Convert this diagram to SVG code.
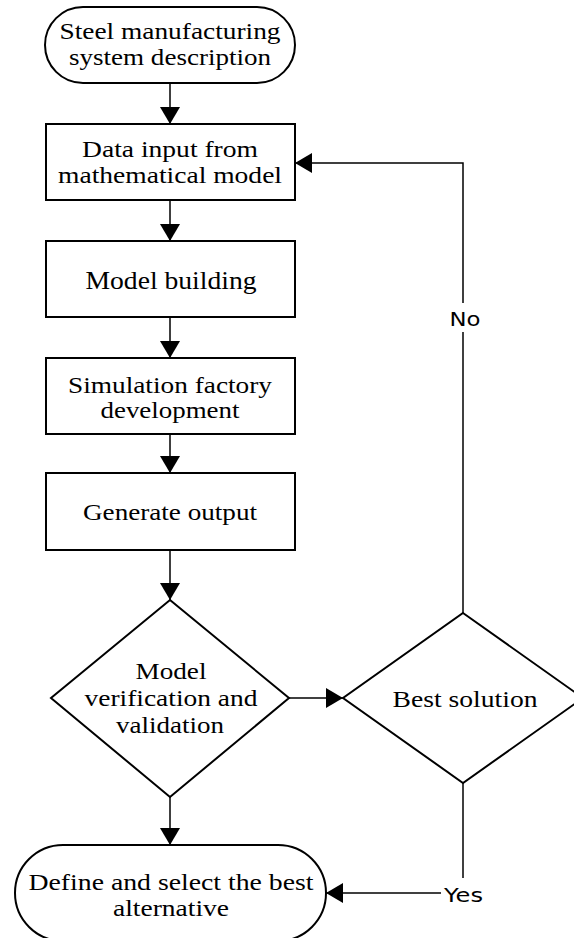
<svg xmlns="http://www.w3.org/2000/svg" width="574" height="938" viewBox="0 0 574 938">
  <style>
    .shape { fill: #ffffff; stroke: #000000; stroke-width: 2; }
    .lbl { font-family: "Liberation Serif", "Times New Roman", serif; font-size: 23px; fill: #000000; text-anchor: middle; }
    .big { font-size: 25px; }
    .cond { font-family: "DejaVu Sans", "Liberation Sans", sans-serif; font-size: 19px; fill: #000000; }
    .link { fill: none; stroke: #000000; stroke-width: 1.5; }
  </style>
  <defs>
    <marker id="arrow" markerUnits="userSpaceOnUse" markerWidth="18" markerHeight="20" refX="17" refY="10" orient="auto">
      <path d="M0,0 L17,10 L0,20 Z" fill="#000000"/>
    </marker>
  </defs>
  <rect width="574" height="938" fill="#ffffff"/>

  <g id="connectors">
    <line class="link" x1="170" y1="83" x2="170" y2="124" marker-end="url(#arrow)"/>
    <line class="link" x1="170" y1="200" x2="170" y2="241" marker-end="url(#arrow)"/>
    <line class="link" x1="170" y1="317" x2="170" y2="358" marker-end="url(#arrow)"/>
    <line class="link" x1="170" y1="434" x2="170" y2="473" marker-end="url(#arrow)"/>
    <line class="link" x1="170" y1="550" x2="170" y2="600" marker-end="url(#arrow)"/>
    <line class="link" x1="289" y1="698" x2="343" y2="698" marker-end="url(#arrow)"/>
    <line class="link" x1="170" y1="797" x2="170" y2="845" marker-end="url(#arrow)"/>
    <!-- No branch: back up to data input -->
    <line class="link" x1="463" y1="613" x2="463" y2="332"/>
    <polyline class="link" points="463,303 463,163 295,163" marker-end="url(#arrow)"/>
    <text class="cond" x="465" y="326" text-anchor="middle" textLength="31" lengthAdjust="spacingAndGlyphs">No</text>
    <!-- Yes branch: down to final step -->
    <line class="link" x1="463" y1="783" x2="463" y2="878"/>
    <line class="link" x1="441" y1="893" x2="326" y2="893" marker-end="url(#arrow)"/>
    <text class="cond" x="444" y="902" textLength="39" lengthAdjust="spacingAndGlyphs">Yes</text>
  </g>

  <g id="start">
    <rect class="shape" x="45" y="7" width="250" height="76" rx="38" ry="38"/>
    <text class="lbl" x="170" y="39" textLength="221" lengthAdjust="spacingAndGlyphs">Steel manufacturing</text>
    <text class="lbl" x="170" y="65" textLength="202" lengthAdjust="spacingAndGlyphs">system description</text>
  </g>

  <g id="data-input">
    <rect class="shape" x="46" y="124" width="249" height="76"/>
    <text class="lbl" x="170" y="157" textLength="176" lengthAdjust="spacingAndGlyphs">Data input from</text>
    <text class="lbl" x="170" y="183" textLength="224" lengthAdjust="spacingAndGlyphs">mathematical model</text>
  </g>

  <g id="model-building">
    <rect class="shape" x="46" y="241" width="249" height="76"/>
    <text class="lbl big" x="171" y="289" textLength="171" lengthAdjust="spacingAndGlyphs">Model building</text>
  </g>

  <g id="simulation">
    <rect class="shape" x="46" y="358" width="249" height="76"/>
    <text class="lbl" x="170" y="393" textLength="204" lengthAdjust="spacingAndGlyphs">Simulation factory</text>
    <text class="lbl" x="170" y="418" textLength="139" lengthAdjust="spacingAndGlyphs">development</text>
  </g>

  <g id="generate-output">
    <rect class="shape" x="46" y="473" width="249" height="77"/>
    <text class="lbl" x="170" y="520" textLength="174" lengthAdjust="spacingAndGlyphs">Generate output</text>
  </g>

  <g id="verification">
    <polygon class="shape" points="170,600 289,698 170,797 51,698"/>
    <text class="lbl" x="171" y="679" textLength="71" lengthAdjust="spacingAndGlyphs">Model</text>
    <text class="lbl" x="171" y="706" textLength="173" lengthAdjust="spacingAndGlyphs">verification and</text>
    <text class="lbl" x="170" y="733" textLength="108" lengthAdjust="spacingAndGlyphs">validation</text>
  </g>

  <g id="best-solution">
    <polygon class="shape" points="463,613 583,698 463,783 343,698"/>
    <text class="lbl" x="465" y="707" textLength="145" lengthAdjust="spacingAndGlyphs">Best solution</text>
  </g>

  <g id="select-alternative">
    <rect class="shape" x="15" y="845" width="311" height="96" rx="48" ry="48"/>
    <text class="lbl" x="171" y="890" textLength="285" lengthAdjust="spacingAndGlyphs">Define and select the best</text>
    <text class="lbl" x="171" y="916" textLength="116" lengthAdjust="spacingAndGlyphs">alternative</text>
  </g>
</svg>
